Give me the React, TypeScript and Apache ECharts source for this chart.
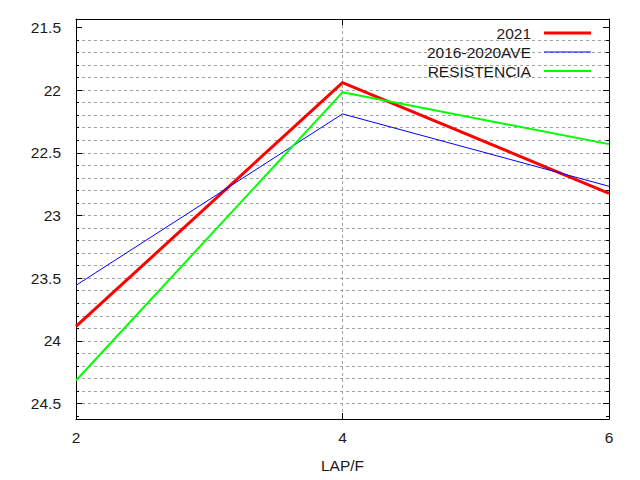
import React, { useEffect, useRef } from "react";
import * as echarts from "echarts";

const xValues = [2, 4, 6];
const seriesNames = ["2021", "2016-2020AVE", "RESISTENCIA"];
const values2021 = [23.885, 21.94, 22.823];
const valuesAve = [23.557, 22.19, 22.767];
const valuesRes = [24.316, 22.018, 22.431];
const seriesColors = ["#ff0000", "#0000ff", "#00ff00"];
const seriesWidths = [3, 1, 2];

const yMajorTicks = [21.5, 22, 22.5, 23, 23.5, 24, 24.5];
const yMinorTicks = [
  21.5, 21.6, 21.7, 21.8, 21.9, 22, 22.1, 22.2, 22.3, 22.4, 22.5, 22.6, 22.7,
  22.8, 22.9, 23, 23.1, 23.2, 23.3, 23.4, 23.5, 23.6, 23.7, 23.8, 23.9, 24,
  24.1, 24.2, 24.3, 24.4, 24.5, 24.6,
];
const xTicks = [2, 4, 6];
const yMin = 21.433;
const yMax = 24.623;
const xName = "LAP/F";

const FONT = "Liberation Sans";
const TEXT = "#1a1a1a";
const GRID_LINE = { show: true, lineStyle: { color: "#a0a0a0", type: [3, 3] as any, width: 1 } };

export default function App() {
  const ref = useRef<HTMLDivElement>(null);
  useEffect(() => {
    if (!ref.current) return;
    const chart = echarts.init(ref.current, undefined, { renderer: "svg" });
    const allValues = [values2021, valuesAve, valuesRes];

    const yBase = {
      type: "value",
      min: yMin,
      max: yMax,
      inverse: true,
      axisLabel: { show: false },
      splitLine: { show: false },
      axisLine: { show: false },
    };

    const legends = seriesNames.map((name, i) => ({
      data: [name],
      right: 49,
      top: 25 + i * 19,
      orient: "horizontal",
      align: "right",
      padding: 0,
      icon: "rect",
      itemWidth: 47,
      itemHeight: seriesWidths[i],
      selectedMode: false,
      textStyle: {
        fontFamily: FONT,
        fontSize: 15.5,
        color: TEXT,
        lineHeight: 16,
        padding: [0, 8, 0, 0],
      },
    }));

    chart.setOption({
      animation: false,
      backgroundColor: "#ffffff",
      textStyle: { fontFamily: FONT },
      grid: { left: 76, right: 31, top: 19, bottom: 61, containLabel: false },
      legend: legends,
      xAxis: [
        {
          type: "value",
          position: "bottom",
          min: 2,
          max: 6,
          interval: 2,
          name: xName,
          nameLocation: "middle",
          nameGap: 38,
          nameTextStyle: { fontFamily: FONT, fontSize: 15.5, color: TEXT },
          axisLine: { show: true, onZero: false, lineStyle: { color: "#000", width: 1 } },
          axisTick: { show: true, inside: true, length: 6, customValues: xTicks, lineStyle: { color: "#000" } },
          axisLabel: { show: true, margin: 10, fontFamily: FONT, fontSize: 15.5, color: TEXT, customValues: xTicks },
          splitLine: { ...GRID_LINE, showMinLine: false, showMaxLine: false },
        },
        {
          type: "value",
          position: "top",
          min: 2,
          max: 6,
          interval: 2,
          axisLine: { show: true, onZero: false, lineStyle: { color: "#000", width: 1 } },
          axisTick: { show: true, inside: true, length: 6, customValues: xTicks, lineStyle: { color: "#000" } },
          axisLabel: { show: false },
          splitLine: { show: false },
        },
      ],
      yAxis: [
        {
          ...yBase,
          position: "left",
          axisLine: { show: true, onZero: false, lineStyle: { color: "#000", width: 1 } },
          axisTick: { show: true, inside: true, length: 3, customValues: yMinorTicks, lineStyle: { color: "#000" } },
          axisLabel: {
            show: true,
            margin: 15,
            fontFamily: FONT,
            fontSize: 15.5,
            color: TEXT,
            customValues: yMajorTicks,
            formatter: (v: number) => String(v),
          },
          splitLine: { ...GRID_LINE, showMinLine: false, showMaxLine: false },
        },
        {
          ...yBase,
          position: "right",
          axisLine: { show: true, onZero: false, lineStyle: { color: "#000", width: 1 } },
          axisTick: { show: true, inside: true, length: 3, customValues: yMinorTicks, lineStyle: { color: "#000" } },
        },
        {
          ...yBase,
          position: "left",
          axisTick: { show: true, inside: true, length: 6, customValues: yMajorTicks, lineStyle: { color: "#000" } },
        },
        {
          ...yBase,
          position: "right",
          axisTick: { show: true, inside: true, length: 6, customValues: yMajorTicks, lineStyle: { color: "#000" } },
        },
      ],
      series: seriesNames.map((name, i) => ({
        name,
        type: "line",
        xAxisIndex: 0,
        yAxisIndex: 0,
        symbol: "none",
        color: seriesColors[i],
        lineStyle: { color: seriesColors[i], width: seriesWidths[i] },
        data: xValues.map((x, j) => [x, allValues[i][j]]),
        z: 3 + i,
      })),
    });
    return () => chart.dispose();
  }, []);

  return (
    <div
      ref={ref}
      style={{ position: "fixed", left: 0, top: 0, width: 640, height: 480, background: "#fff" }}
    />
  );
}
